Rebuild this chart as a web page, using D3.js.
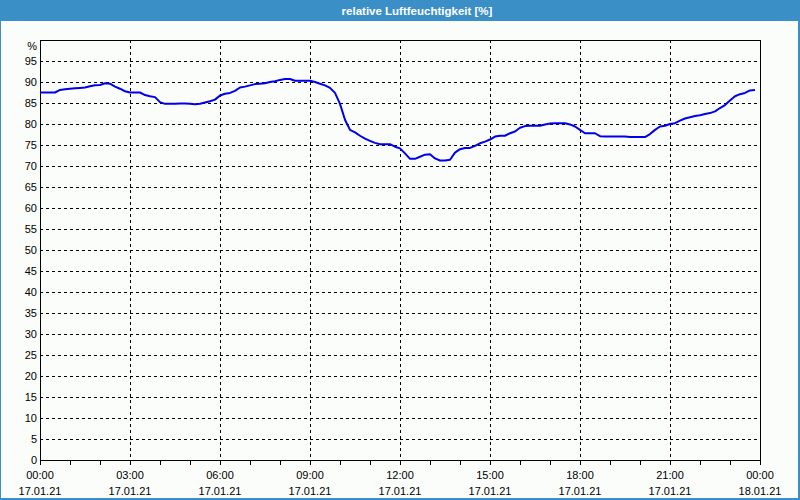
<!DOCTYPE html>
<html><head><meta charset="utf-8">
<script src="https://cdn.jsdelivr.net/npm/d3@7"></script>
<style>html,body{margin:0;padding:0;background:#fff;}svg{display:block;}</style>
</head><body>
<script>
const title = "relative Luftfeuchtigkeit [%]";
const unitLabel = "%";
const yTicks = [0,5,10,15,20,25,30,35,40,45,50,55,60,65,70,75,80,85,90,95];
const xMajorHours = [0,3,6,9,12,15,18,21,24];
const xTimeLabels = ["00:00","03:00","06:00","09:00","12:00","15:00","18:00","21:00","00:00"];
const xDateLabels = ["17.01.21","17.01.21","17.01.21","17.01.21","17.01.21","17.01.21","17.01.21","17.01.21","18.01.21"];
// humidity every 10 minutes from 00:00 to 23:50
const humidity = [
87.5,87.5,87.5,87.5,88.1,88.3,88.4,88.5,88.6,88.7,89.0,89.2,
89.3,89.7,89.6,88.9,88.4,87.8,87.5,87.5,87.5,86.9,86.6,86.4,
85.2,84.8,84.8,84.8,84.9,84.9,84.8,84.7,84.8,85.1,85.4,85.8,
86.8,87.2,87.4,87.9,88.7,88.9,89.2,89.5,89.6,89.7,90.0,90.2,
90.5,90.7,90.7,90.3,90.3,90.3,90.3,90.0,89.6,89.2,88.6,87.4,
84.8,81.0,78.6,78.0,77.2,76.5,76.0,75.5,75.2,75.2,75.2,74.6,
74.2,73.0,71.7,71.7,72.2,72.7,72.8,71.8,71.3,71.3,71.5,73.2,
74.0,74.3,74.3,74.8,75.4,75.8,76.3,77.0,77.2,77.2,77.8,78.2,
79.1,79.5,79.6,79.6,79.6,79.9,80.1,80.2,80.2,80.2,79.9,79.4,
78.6,77.8,77.8,77.8,77.1,77.0,77.0,77.0,77.0,77.0,76.9,76.9,
76.9,76.9,77.6,78.6,79.4,79.6,80.0,80.2,80.8,81.3,81.6,81.9,
82.1,82.4,82.6,83.0,83.8,84.5,85.6,86.6,87.1,87.4,88.0,88.1
];
const times = humidity.map((d,i)=>i/6);

const W=800,H=500;
const svg=d3.select("body").append("svg").attr("width",W).attr("height",H);
const font="'Liberation Sans', Arial, sans-serif";
// background and frame
svg.append("rect").attr("x",0).attr("y",0).attr("width",W).attr("height",H).attr("fill","#3b8fc7");
svg.append("rect").attr("x",1).attr("y",21).attr("width",W-3).attr("height",H-23).attr("fill","#fbfdfb");
svg.append("text").attr("x",417).attr("y",15).attr("text-anchor","middle")
  .attr("font-family",font).attr("font-size",11.5).attr("font-weight","bold").attr("fill","#fff").text(title);

const m={l:40,r:760,t:40,b:460};
const x=d3.scaleLinear().domain([0,24]).range([m.l,m.r]);
const y=d3.scaleLinear().domain([0,100]).range([m.b,m.t]);

// grid
const g=svg.append("g").attr("shape-rendering","crispEdges");
g.selectAll("line.hg").data(yTicks.filter(v=>v>0)).join("line")
  .attr("x1",m.l).attr("x2",m.r).attr("y1",d=>Math.round(y(d))+0.5).attr("y2",d=>Math.round(y(d))+0.5)
  .attr("stroke","#000").attr("stroke-dasharray","3,3");
g.selectAll("line.vg").data(xMajorHours.filter(h=>h>0&&h<24)).join("line")
  .attr("y1",m.t).attr("y2",m.b).attr("x1",d=>Math.round(x(d))+0.5).attr("x2",d=>Math.round(x(d))+0.5)
  .attr("stroke","#000").attr("stroke-dasharray","3,3");

// x axis minor ticks
const xAxis=d3.axisBottom(x).tickValues(d3.range(0,25,1)).tickSize(4).tickFormat("");
const xa=svg.append("g").attr("transform",`translate(0,${m.b+0.5})`).call(xAxis);
xa.select(".domain").remove();
xa.selectAll("line").attr("stroke","#000").attr("shape-rendering","crispEdges");

// frame
svg.append("rect").attr("x",m.l+0.5).attr("y",m.t+0.5).attr("width",m.r-m.l-1+1).attr("height",m.b-m.t)
  .attr("fill","none").attr("stroke","#000").attr("shape-rendering","crispEdges");

// labels
svg.selectAll("text.yl").data(yTicks).join("text").attr("class","yl")
  .attr("x",37).attr("y",d=>y(d)+4).attr("text-anchor","end")
  .attr("font-family",font).attr("font-size",11).attr("fill","#000").text(d=>d);
svg.append("text").attr("x",37).attr("y",50).attr("text-anchor","end")
  .attr("font-family",font).attr("font-size",11).attr("fill","#000").text(unitLabel);
svg.selectAll("text.xt").data(xMajorHours).join("text").attr("class","xt")
  .attr("x",d=>x(d)).attr("y",479).attr("text-anchor","middle")
  .attr("font-family",font).attr("font-size",11).attr("fill","#000").text((d,i)=>xTimeLabels[i]);
svg.selectAll("text.xd").data(xMajorHours).join("text").attr("class","xd")
  .attr("x",d=>x(d)).attr("y",495).attr("text-anchor","middle")
  .attr("font-family",font).attr("font-size",11).attr("fill","#000").text((d,i)=>xDateLabels[i]);

// line
const line=d3.line().x((d,i)=>x(times[i])).y(d=>y(d));
svg.append("path").datum(humidity).attr("d",line).attr("fill","none")
  .attr("stroke","#0000ee").attr("stroke-width",2).attr("stroke-linejoin","round");
</script>
</body></html>
